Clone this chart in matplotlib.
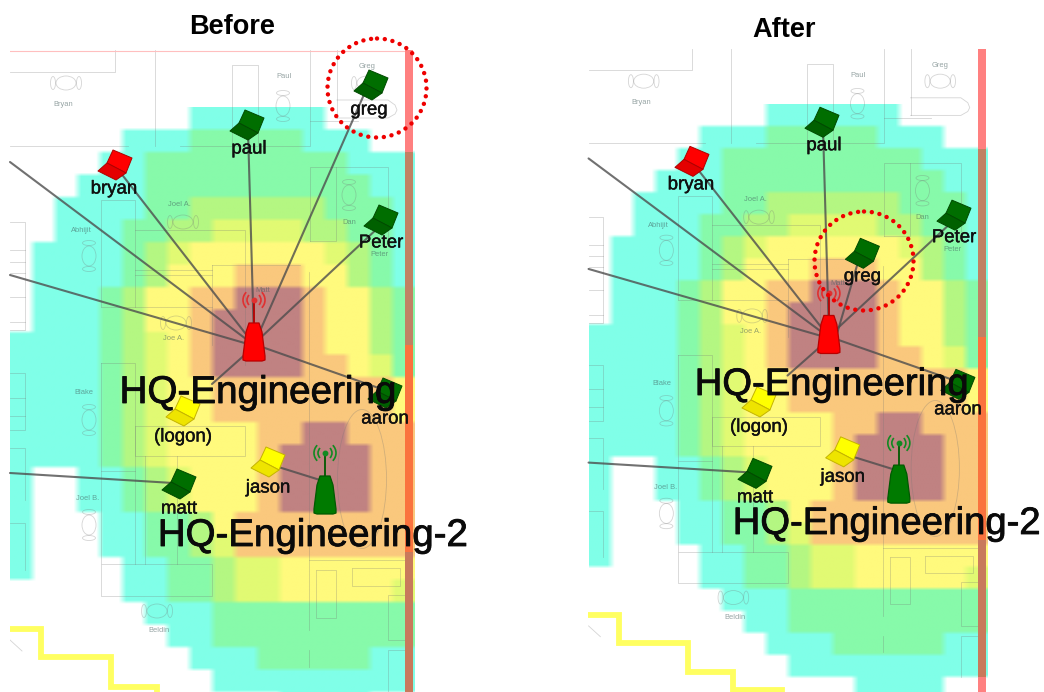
import numpy as np
import matplotlib
matplotlib.use("Agg")
import matplotlib.pyplot as plt
import matplotlib.patheffects as pe
from matplotlib.patches import Polygon, Circle, Arc, Ellipse, Rectangle

plt.rcParams['font.family'] = ['Liberation Sans', 'DejaVu Sans']

# Signal level per heat-map cell (0 none ... 7 strongest), rows from the top
HEAT_ROWS = [
    "000000001111110000", "000001112222211100", "000011222222222111",
    "000111222222222211", "001111223333332221", "001112233444433221",
    "011112345555554321", "011112355566655321", "011123556677765532",
    "011123556777765532", "111123456777765532", "111123456777766542",
    "111123455666666665", "111123455666666665", "111123455556677666",
    "111123455556777766", "100112345556777766", "100112345556777766",
    "100011223566666666", "100011223466666666", "100001122344555555",
    "000001122344555554", "000000111222222222", "000000011222222222",
    "000000001112222211", "000000000111111111", "000000000000111100",
]
HEAT_COLORS = [(255, 255, 255), (128, 255, 232), (135, 250, 170), (180, 247, 130),
               (225, 250, 115), (255, 250, 125), (250, 200, 125), (192, 130, 130)]

LAPTOPS_BEFORE = [("paul", 247, 125, "green", 249, 149), ("bryan", 115, 165, "red", 114, 189),
                  ("greg", 371, 85, "green", 369, 110), ("Peter", 381, 220, "green", 381, 243),
                  ("aaron", 385, 393, "green", 385, 419), ("(logon)", 183, 411, "yellow", 183, 437),
                  ("jason", 268, 462, "yellow", 268, 488), ("matt", 179, 484, "green", 179, 509)]
LAPTOPS_AFTER = [("paul", 247, 125, "green", 249, 149), ("bryan", 115, 165, "red", 114, 189),
                 ("greg", 288, 259, "green", 288, 283), ("Peter", 381, 220, "green", 381, 243),
                 ("aaron", 385, 393, "green", 385, 419), ("(logon)", 183, 411, "yellow", 183, 437),
                 ("jason", 268, 462, "yellow", 268, 488), ("matt", 179, 484, "green", 179, 509)]

LINKS_COMMON = [((248, 130), (254, 340)), ((120, 172), (252, 342)), ((380, 226), (256, 342)),
                ((10, 162), (250, 342)), ((10, 275), (248, 344)), ((390, 392), (262, 347)),
                ((212, 384), (248, 352)), ((10, 473), (173, 483)), ((272, 465), (320, 480))]
LINK_GREG_BEFORE = ((366, 90), (256, 340))
LINK_GREG_AFTER = ((283, 270), (262, 342))

PLAN_LINES = [
    [(10, 72), (115, 72), (115, 50)], [(10, 146), (128, 146)], [(155, 50), (155, 146)],
    [(180, 146), (310, 146), (310, 50)], [(232, 145), (232, 65), (258, 65), (258, 145)],
    [(310, 121), (358, 121)], [(337, 50), (337, 118)], [(337, 100), (388, 100), (395, 105), (397, 110), (395, 114), (388, 118), (337, 118)],
    [(310, 241), (310, 167), (388, 167), (388, 240)], [(310, 241), (336, 241), (336, 167)],
    [(309, 272), (309, 630)], [(309, 650), (309, 667)],
    [(101, 307), (101, 200), (135, 200), (135, 307), (101, 307)],
    [(101, 363), (135, 363), (135, 564)], [(101, 363), (101, 596), (212, 596), (212, 564), (101, 564)],
    [(101, 471), (135, 471)],
    [(135, 230), (245, 230), (245, 365)], [(135, 270), (212, 270)], [(135, 275), (212, 275)],
    [(212, 265), (300, 265)], [(212, 265), (212, 345)], [(135, 307), (212, 307)],
    [(135, 426), (245, 426), (245, 456), (135, 456), (135, 426)],
    [(145, 456), (145, 564)], [(177, 456), (177, 564)],
    [(316, 570), (336, 570), (336, 618), (316, 618), (316, 570)],
    [(352, 568), (400, 568), (400, 586), (352, 586), (352, 568)],
    [(309, 560), (405, 560)], [(405, 595), (388, 595), (388, 640), (405, 640)],
    [(405, 650), (388, 650), (388, 692)],
    [(10, 222), (25, 222), (25, 330), (10, 330)], [(10, 250), (25, 250)], [(10, 262), (25, 262)],
    [(10, 273), (25, 273)], [(10, 297), (25, 297)], [(10, 322), (25, 322)],
    [(10, 373), (25, 373), (25, 430), (10, 430)], [(10, 398), (25, 398)], [(10, 416), (25, 416)],
    [(10, 448), (25, 448), (25, 500)], [(10, 523), (25, 523), (25, 570)], [(10, 640), (22, 651)],
]
PLAN_OVAL = (362, 479, 49, 139)
CHAIRS_H = [(66, 83), (367, 83), (183, 222), (176, 323), (157, 611)]
CHAIRS_V = [(283, 106), (89, 256), (349, 195), (89, 420), (89, 525)]
PLAN_LABELS = [("Bryan", 63, 105), ("Paul", 284, 77), ("Greg", 367, 67), ("Joel A.", 179, 204),
               ("Abhijit", 81, 231), ("Dan", 349, 222), ("Peter", 379, 255), ("Joe A.", 174, 339),
               ("Blake", 84, 392), ("Joel B.", 88, 498), ("Beldin", 159, 631), ("Matt", 263, 290)]

STAIRS = [(10, 629), (41, 629), (41, 657), (111, 657), (111, 687), (157, 687), (157, 706), (206, 706)]
WALL_SEGMENTS = [(50, 152, (255, 128, 128)), (152, 345, (192, 130, 100)),
                 (345, 552, (250, 115, 62)), (552, 692, (200, 122, 92)), (692, 720, (255, 128, 128))]

LAPTOP_COLORS = {"green": ("#006e00", "#006000", "#004a00"),
                 "red": ("#ff0000", "#e40000", "#b00000"),
                 "yellow": ("#ffff00", "#eee400", "#c4b400")}

fig = plt.figure(figsize=(10.44, 6.92), dpi=100)
ax = fig.add_axes([0, 0, 1, 1])
ax.set_axis_off()


def c255(c):
    return tuple(v / 255 for v in c)


def draw_panel(ox, sx, sy, laptops, greg_link, hq1, hq2, fs1, fs2, circle, top_line, panel_left):
    X = lambda x: ox + sx * x
    Y = lambda y: sy * y
    grid = np.array([[HEAT_COLORS[int(ch)] for ch in row] for row in HEAT_ROWS], dtype=float) / 255
    big = np.repeat(np.repeat(grid, 6, axis=0), 3, axis=1)
    ax.imshow(big, extent=(X(10), X(415), Y(107 + 22.5 * len(HEAT_ROWS)), Y(107)),
              interpolation='bilinear', aspect='auto', zorder=1)

    gray = (0.45, 0.45, 0.45)
    for pl in PLAN_LINES:
        xs, ys = zip(*pl)
        ax.plot(X(np.array(xs)), Y(np.array(ys)), color=gray, lw=0.6, alpha=0.3, zorder=2)
    ax.add_patch(Ellipse((X(PLAN_OVAL[0]), Y(PLAN_OVAL[1])), PLAN_OVAL[2] * sx, PLAN_OVAL[3] * sy,
                         fill=False, ec=gray, lw=0.6, alpha=0.3, zorder=2))
    for cx, cy in CHAIRS_H:
        ax.add_patch(Ellipse((X(cx), Y(cy)), 20, 14, fill=False, ec=gray, lw=0.6, alpha=0.3, zorder=2))
        for d in (-13, 13):
            ax.add_patch(Ellipse((X(cx + d), Y(cy)), 5, 13, fill=False, ec=gray, lw=0.6, alpha=0.3, zorder=2))
    for cx, cy in CHAIRS_V:
        ax.add_patch(Ellipse((X(cx), Y(cy)), 14, 20, fill=False, ec=gray, lw=0.6, alpha=0.3, zorder=2))
        for d in (-13, 13):
            ax.add_patch(Ellipse((X(cx), Y(cy + d)), 13, 5, fill=False, ec=gray, lw=0.6, alpha=0.3, zorder=2))
    for t, x, y in PLAN_LABELS:
        ax.text(X(x), Y(y), t, fontsize=5.4, color=(0.25, 0.35, 0.35), alpha=0.55,
                ha='center', va='center', zorder=2)

    sxs, sys_ = zip(*STAIRS)
    ax.plot(X(np.array(sxs)), Y(np.array(sys_)), color=(1, 1, 0.38), lw=4.2,
            solid_joinstyle='miter', zorder=2)

    for y0, y1, col in WALL_SEGMENTS:
        ax.add_patch(Rectangle((X(405), Y(y0)), 8 * sx, (y1 - y0) * sy, fc=c255(col), ec='none', zorder=3))
    if top_line:
        ax.plot([X(10), X(405)], [Y(51), Y(51)], color=(1, 0.75, 0.75), lw=0.8, zorder=2)

    for (a, b) in LINKS_COMMON + [greg_link]:
        ax.plot([X(a[0]), X(b[0])], [Y(a[1]), Y(b[1])], color=(0.3, 0.3, 0.3), lw=1.5, alpha=0.8,
                solid_capstyle='round', zorder=4)

    ap = np.array([(-5, -19), (5, -19), (8, -10), (11, 14), (11, 18), (8, 19), (-8, 19),
                   (-11, 18), (-11, 14), (-8, -10)], dtype=float)
    for (cx, cy, fc, ec, ant, lab) in [(254, 342, "#ff0000", "#b80000", "#e03030", 300),
                                       (325, 495, "#007a00", "#005a00", "#118a22", 453)]:
        ax.add_patch(Polygon(np.c_[X(cx) + ap[:, 0], Y(cy) + ap[:, 1]], closed=True, fc=fc, ec=ec,
                             lw=0.9, joinstyle='round', zorder=5))
        ax.plot([X(cx), X(cx)], [Y(lab), Y(cy - 19)], color=ec, lw=1.3, zorder=4)
        ax.plot(X(cx), Y(lab), 'o', ms=3.2, color=ant, zorder=5)
        for r in (7, 11):
            ax.add_patch(Arc((X(cx), Y(lab)), 2 * r, 2 * r, theta1=-45, theta2=45, ec=ant, lw=1.2, zorder=5))
            ax.add_patch(Arc((X(cx), Y(lab)), 2 * r, 2 * r, theta1=135, theta2=225, ec=ant, lw=1.2, zorder=5))

    screen = np.array([(-2, -15), (17, -7), (11, 8), (-8, -2)], dtype=float)
    base = np.array([(-17, 6), (-8, -2), (11, 8), (1, 15)], dtype=float)
    for name, x, y, kind, lx, ly in laptops:
        c1, c2, c3 = LAPTOP_COLORS[kind]
        ax.add_patch(Polygon(np.c_[X(x) + screen[:, 0], Y(y) + screen[:, 1]], closed=True, fc=c1, ec=c3,
                             lw=0.7, joinstyle='round', zorder=5))
        ax.add_patch(Polygon(np.c_[X(x) + base[:, 0], Y(y) + base[:, 1]], closed=True, fc=c2, ec=c3,
                             lw=0.7, joinstyle='round', zorder=5))
        ax.text(X(lx), Y(ly), name, fontsize=13.4, color='#101010', ha='center', va='center', zorder=6,
                path_effects=[pe.withStroke(linewidth=0.3, foreground='#101010')])

    stroke = [pe.withStroke(linewidth=0.6, foreground='#0a0a0a')]
    ax.text(hq1[0], hq1[1], "HQ-Engineering", fontsize=fs1, color='#0a0a0a', ha='center', va='center',
            zorder=7, path_effects=stroke)
    ax.text(hq2[0], hq2[1], "HQ-Engineering-2", fontsize=fs2, color='#0a0a0a', ha='center', va='center',
            zorder=7, path_effects=stroke)
    ax.add_patch(Circle(circle, 49.5, fill=False, ec='#ee0000', lw=3.2,
                        linestyle=(0, (0.01, 1.75)), capstyle='round', zorder=8))
    # mask anything left of the panel
    ax.add_patch(Rectangle((panel_left - 40, 0), 40, 692, fc='white', ec='none', zorder=3.5))


draw_panel(0, 1.0, 1.0, LAPTOPS_BEFORE, LINK_GREG_BEFORE, (258, 393), (313, 536), 27.8, 27.7,
           (377, 88), True, 10)
draw_panel(578.7, 0.985, 0.978, LAPTOPS_AFTER, LINK_GREG_AFTER, (832, 385), (887, 524), 27.5, 27.5,
           (864, 261), False, 588)

for t, x, y in [("Before", 232, 27), ("After", 784, 30)]:
    ax.text(x, y, t, fontsize=19.5, fontweight='bold', color='black', ha='center', va='center', zorder=9)

ax.set_xlim(0, 1044)
ax.set_ylim(692, 0)
fig.savefig("out.png", dpi=100)
